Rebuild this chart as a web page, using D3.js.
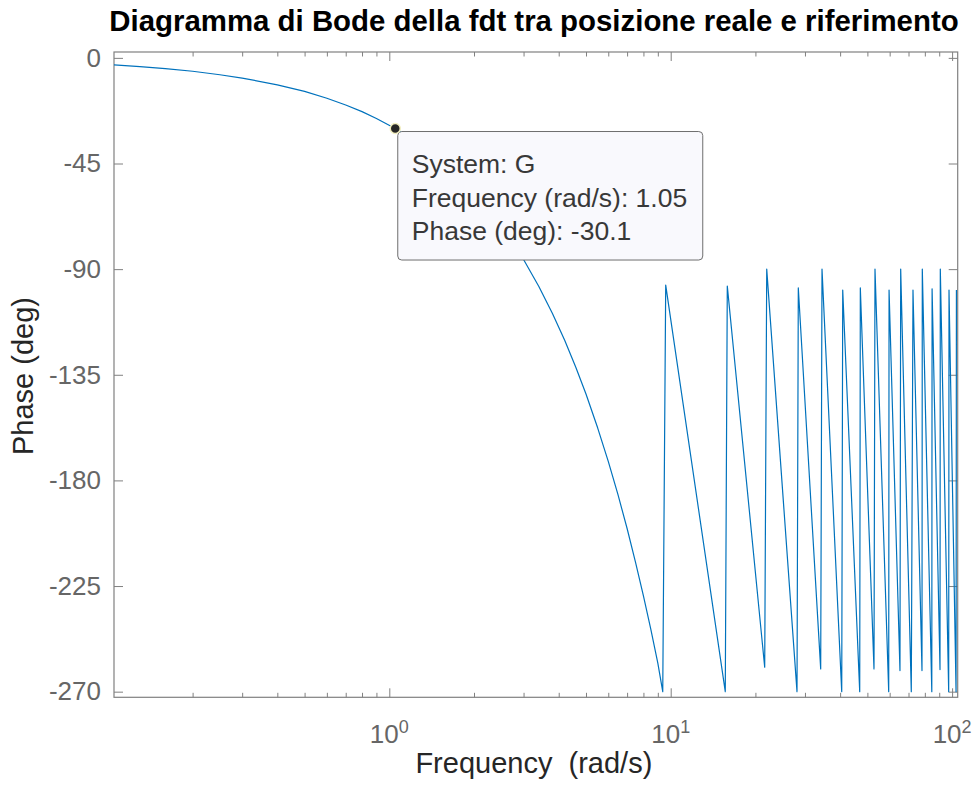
<!DOCTYPE html>
<html>
<head>
<meta charset="utf-8">
<script src="https://cdn.jsdelivr.net/npm/d3@7"></script>
<style>
  body { margin: 0; background: #fff; }
  svg { display: block; font-family: "Liberation Sans", Arial, Helvetica, sans-serif; }
</style>
</head>
<body>
<svg id="chart" width="976" height="785"></svg>
<script>
// Phase response of G: smooth low-frequency sweep
const sweepFreq = [0.105, 0.13, 0.16, 0.2, 0.25, 0.3, 0.4, 0.5, 0.6, 0.7, 0.8, 0.9, 1.05,
  1.2, 1.4, 1.6, 1.8, 2.0, 2.3, 2.6, 3.0, 3.4, 3.8, 4.2, 4.6, 5.0, 5.5, 6.0, 6.5, 7.0,
  7.5, 8.0, 8.5, 9.0, 9.37];
const sweepPhase = [-3.0, -3.7, -4.6, -5.7, -7.2, -8.6, -11.5, -14.3, -17.2, -20.1, -22.9, -25.8, -30.1,
  -34.4, -40.1, -45.8, -51.6, -57.3, -65.9, -74.5, -85.9, -97.4, -108.9, -120.3, -131.8, -143.2, -157.6, -171.9, -186.2, -200.5,
  -214.9, -229.2, -243.5, -257.8, -270.0];

// Wrapped high-frequency samples
const wrapFreq = [9.60, 15.63, 15.89, 21.58, 21.94, 28.11, 28.41, 34.12, 34.49, 40.53, 40.86,
  46.96, 47.19, 52.78, 53.21, 59.53, 59.70, 65.28, 65.66, 71.61, 72.61, 78.16, 78.36,
  84.70, 84.90, 90.58, 90.80, 97.25, 97.50, 103.3, 103.6];
const wrapPhase = [-96.8, -270, -97.2, -259.6, -90, -270, -98.0, -260.3, -90, -270, -98.9,
  -270, -98.0, -260.3, -90, -270, -98.9, -261.0, -90, -270, -98.9, -261.0, -90,
  -270, -98.4, -260.6, -90, -270, -98.9, -270, -98.9];

const yTickValues = [0, -45, -90, -135, -180, -225, -270];
const xDecades = [0, 1, 2];
const freqLimits = [0.10512, 104.69];
const phaseLimits = [2.5, -272.4];

const datatipFreq = 1.05;
const datatipPhase = -30.1;
const datatipLines = ["System: G", "Frequency (rad/s): 1.05", "Phase (deg): -30.1"];

const titleText = "Diagramma di Bode della fdt tra posizione reale e riferimento";
const xLabelText = "Frequency  (rad/s)";
const yLabelText = "Phase (deg)";

// ---- layout ----
const box = { left: 114, right: 957.7, top: 52, bottom: 697.3 };
const svg = d3.select("#chart");

const x = d3.scaleLog().domain(freqLimits).range([box.left, box.right]);
const y = d3.scaleLinear().domain(phaseLimits).range([box.top, box.bottom]);

const axisGrey = "#808080";
const tickText = "#666666";
const majorLen = 9, minorLen = 4.5;

// tick positions on the log axis
const majorX = xDecades.map(k => Math.pow(10, k));
const minorX = [];
for (let k = -1; k <= 2; k++) {
  for (let m = 2; m <= 9; m++) {
    const v = m * Math.pow(10, k);
    if (v > freqLimits[0] && v < freqLimits[1]) minorX.push(v);
  }
}

function styleAxis(g) {
  g.select(".domain").remove();
  g.selectAll(".tick line").attr("stroke", axisGrey).attr("stroke-width", 1);
}

// bottom ticks
svg.append("g").attr("transform", `translate(0,${box.bottom})`)
  .call(d3.axisBottom(x).tickValues(majorX).tickSize(-majorLen).tickFormat(""))
  .call(styleAxis);
svg.append("g").attr("transform", `translate(0,${box.bottom})`)
  .call(d3.axisBottom(x).tickValues(minorX).tickSize(-minorLen).tickFormat(""))
  .call(styleAxis);
// top ticks
svg.append("g").attr("transform", `translate(0,${box.top})`)
  .call(d3.axisTop(x).tickValues(majorX).tickSize(-majorLen).tickFormat(""))
  .call(styleAxis);
svg.append("g").attr("transform", `translate(0,${box.top})`)
  .call(d3.axisTop(x).tickValues(minorX).tickSize(-minorLen).tickFormat(""))
  .call(styleAxis);

// left axis with labels (plain hyphen for negatives)
const leftAxis = svg.append("g").attr("transform", `translate(${box.left},0)`)
  .call(d3.axisLeft(y).tickValues(yTickValues).tickSize(-majorLen).tickPadding(13).tickFormat(d => String(d)))
  .call(styleAxis);
leftAxis.selectAll(".tick text")
  .attr("fill", tickText)
  .attr("font-size", 26)
  .attr("font-family", "Liberation Sans, Arial, sans-serif");

// right ticks
svg.append("g").attr("transform", `translate(${box.right},0)`)
  .call(d3.axisLeft(y).tickValues(yTickValues).tickSize(majorLen).tickFormat(""))
  .call(styleAxis);

// axes box
svg.append("rect")
  .attr("x", box.left).attr("y", box.top)
  .attr("width", box.right - box.left).attr("height", box.bottom - box.top)
  .attr("fill", "none").attr("stroke", axisGrey).attr("stroke-width", 1.2);

// x tick labels 10^k
const xLabels = svg.append("g");
xDecades.forEach(k => {
  const t = xLabels.append("text")
    .attr("x", x(Math.pow(10, k)))
    .attr("y", 742.5)
    .attr("text-anchor", "middle")
    .attr("fill", tickText)
    .attr("font-size", 26);
  t.append("tspan").text("10");
  t.append("tspan").attr("dy", -10).attr("font-size", 18).text(String(k));
});

// phase curve
const curve = sweepFreq.map((f, i) => [f, sweepPhase[i]])
  .concat(wrapFreq.map((f, i) => [f, wrapPhase[i]]));

svg.append("clipPath").attr("id", "plotClip")
  .append("rect")
  .attr("x", box.left).attr("y", box.top)
  .attr("width", box.right - box.left).attr("height", box.bottom - box.top);

svg.append("path")
  .datum(curve)
  .attr("clip-path", "url(#plotClip)")
  .attr("fill", "none")
  .attr("stroke", "#0072BD")
  .attr("stroke-width", 1.2)
  .attr("stroke-linejoin", "round")
  .attr("d", d3.line().x(d => x(d[0])).y(d => y(d[1])));

// datatip
const px = x(datatipFreq), py = y(datatipPhase);
const tip = svg.append("g");
tip.append("rect")
  .attr("x", px + 2.5).attr("y", py + 3)
  .attr("width", 305).attr("height", 128.5)
  .attr("rx", 4).attr("ry", 4)
  .attr("fill", "#f9f9fd")
  .attr("stroke", "#6e6e6e")
  .attr("stroke-width", 1);
datatipLines.forEach((line, i) => {
  tip.append("text")
    .attr("x", px + 16.5)
    .attr("y", py + 44.5 + i * 33.5)
    .attr("fill", "#383838")
    .attr("font-size", 26.5)
    .text(line);
});
tip.append("circle")
  .attr("cx", px).attr("cy", py).attr("r", 5)
  .attr("fill", "#262626")
  .attr("stroke", "#f3efc0")
  .attr("stroke-width", 1.5);

// title and axis labels
svg.append("text")
  .attr("x", 534).attr("y", 31)
  .attr("text-anchor", "middle")
  .attr("font-size", 29.4)
  .attr("font-weight", "bold")
  .attr("fill", "#000")
  .text(titleText);

svg.append("text")
  .attr("x", (box.left + box.right) / 2 - 2).attr("y", 773)
  .attr("text-anchor", "middle")
  .attr("font-size", 29)
  .attr("fill", "#262626")
  .style("white-space", "pre")
  .text(xLabelText);

svg.append("text")
  .attr("transform", `translate(33,376) rotate(-90)`)
  .attr("text-anchor", "middle")
  .attr("font-size", 29)
  .attr("fill", "#262626")
  .text(yLabelText);
</script>
</body>
</html>
